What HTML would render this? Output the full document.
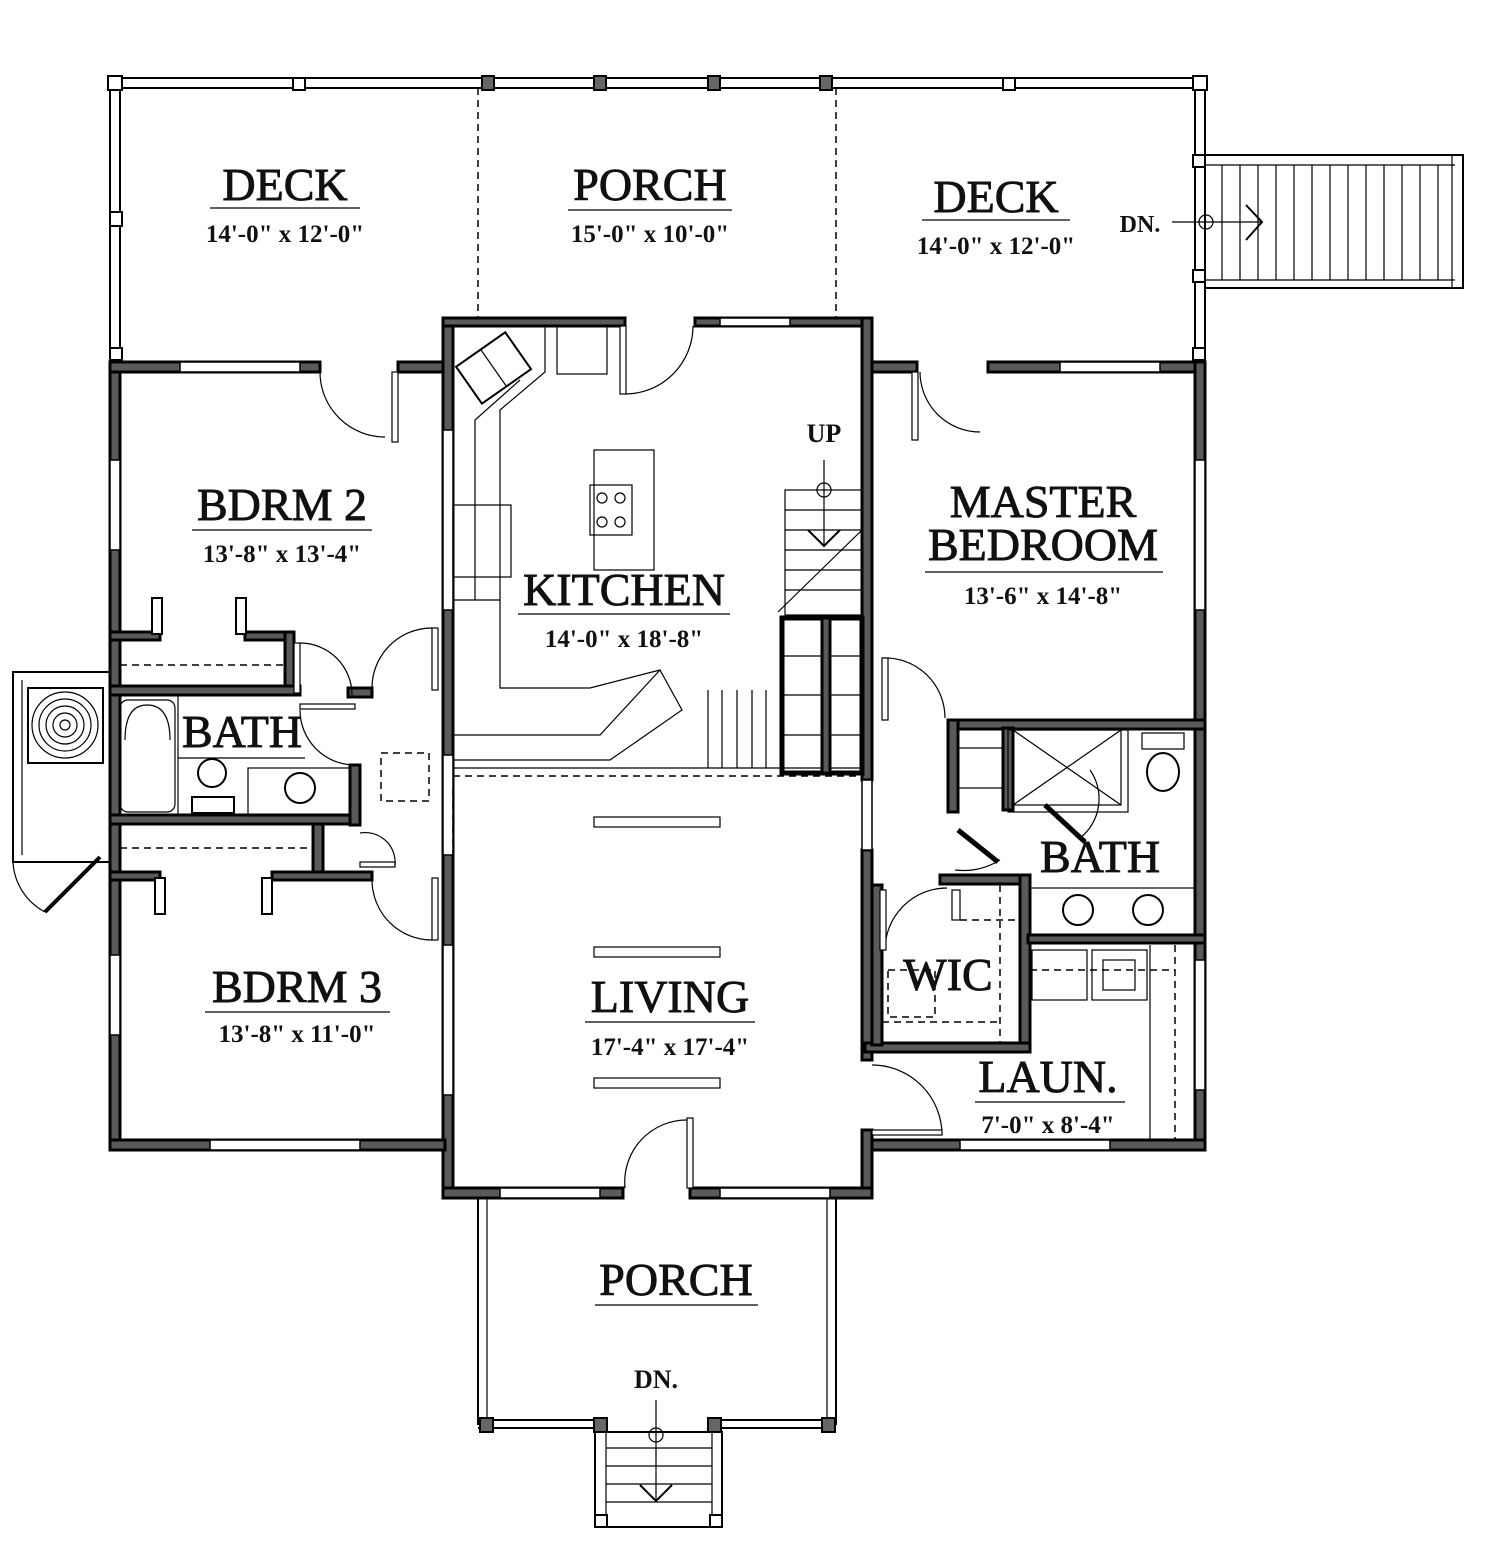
<!DOCTYPE html>
<html><head><meta charset="utf-8"><style>
html,body{margin:0;padding:0;background:#fff}
svg{display:block}
text{font-family:"Liberation Serif",serif;fill:#111;text-anchor:middle}
.t{font-size:46px;stroke:#111;stroke-width:0.9}
.d{font-size:25px;font-weight:bold}
.w{fill:#5a5a5a;stroke:#000;stroke-width:3}
.l{stroke:#000;stroke-width:2;fill:none}
.th{stroke:#000;stroke-width:1.2;fill:none}
.ds{stroke:#000;stroke-width:1.5;fill:none;stroke-dasharray:7 5}
.p{fill:#666;stroke:#000;stroke-width:2}
</style></head><body>
<svg width="1508" height="1560" viewBox="0 0 1508 1560" xmlns="http://www.w3.org/2000/svg">
<rect x="110" y="78" width="1095" height="10" class="l" fill="none"/>
<rect x="110" y="78" width="10" height="284" class="l"/>
<rect x="1195" y="78" width="10" height="284" class="l"/>
<g class="p">
<rect x="482" y="76" width="12" height="14"/><rect x="594" y="76" width="12" height="14"/><rect x="708" y="76" width="12" height="14"/><rect x="820" y="76" width="12" height="14"/>
</g>
<g fill="#fff" stroke="#000" stroke-width="2">
<rect x="108" y="76" width="14" height="14"/><rect x="293" y="78" width="12" height="12"/><rect x="1193" y="76" width="14" height="14"/><rect x="1003" y="78" width="12" height="12"/>
<rect x="110" y="212" width="12" height="14"/><rect x="1193" y="155" width="12" height="12"/><rect x="1193" y="270" width="12" height="12"/><rect x="1193" y="348" width="12" height="12"/><rect x="110" y="348" width="12" height="12"/>
</g>
<line x1="478" y1="88" x2="478" y2="318" class="ds"/>
<line x1="836" y1="88" x2="836" y2="318" class="ds"/>
<rect x="1205" y="155" width="258" height="133" class="l"/>
<line x1="1205" y1="165" x2="1455" y2="165" class="th"/><line x1="1205" y1="280" x2="1455" y2="280" class="th"/>
<line x1="1452" y1="155" x2="1452" y2="288" class="th"/>
<g class="th">
<line x1="1222" y1="165" x2="1222" y2="280"/><line x1="1240" y1="165" x2="1240" y2="280"/><line x1="1258" y1="165" x2="1258" y2="280"/><line x1="1276" y1="165" x2="1276" y2="280"/><line x1="1294" y1="165" x2="1294" y2="280"/><line x1="1312" y1="165" x2="1312" y2="280"/><line x1="1330" y1="165" x2="1330" y2="280"/><line x1="1348" y1="165" x2="1348" y2="280"/><line x1="1366" y1="165" x2="1366" y2="280"/><line x1="1384" y1="165" x2="1384" y2="280"/><line x1="1402" y1="165" x2="1402" y2="280"/><line x1="1420" y1="165" x2="1420" y2="280"/><line x1="1438" y1="165" x2="1438" y2="280"/>
</g>
<line x1="1172" y1="222" x2="1262" y2="222" class="th"/><circle cx="1206" cy="222" r="7" class="th"/>
<path d="M1246 205 L1262 222 L1246 240" class="l"/>
<g class="w">
<rect x="110" y="362" width="10" height="788"/>
<rect x="110" y="362" width="210" height="10"/>
<rect x="398" y="362" width="47" height="10"/>
<rect x="443" y="318" width="10" height="880"/>
<rect x="443" y="318" width="182" height="8"/>
<rect x="695" y="318" width="177" height="8"/>
<rect x="862" y="318" width="10" height="462"/>
<rect x="862" y="850" width="10" height="210"/>
<rect x="862" y="1130" width="10" height="68"/>
<rect x="872" y="362" width="45" height="10"/>
<rect x="988" y="362" width="217" height="10"/>
<rect x="1195" y="362" width="10" height="788"/>
<rect x="110" y="1140" width="335" height="10"/>
<rect x="443" y="1188" width="180" height="10"/>
<rect x="690" y="1188" width="182" height="10"/>
<rect x="872" y="1140" width="333" height="10"/>
<rect x="110" y="632" width="50" height="8"/><rect x="245" y="632" width="48" height="8"/>
<rect x="285" y="632" width="9" height="60"/>
<rect x="110" y="686" width="190" height="9"/>
<rect x="110" y="815" width="250" height="9"/>
<rect x="350" y="765" width="10" height="60"/>
<rect x="313" y="824" width="10" height="50"/>
<rect x="110" y="872" width="50" height="8"/><rect x="272" y="872" width="100" height="8"/>
<rect x="348" y="688" width="24" height="9"/>
<rect x="948" y="720" width="257" height="9"/>
<rect x="948" y="720" width="10" height="92"/>
<rect x="1003" y="728" width="10" height="82"/>
<rect x="940" y="875" width="90" height="9"/>
<rect x="1020" y="875" width="10" height="175"/>
<rect x="865" y="1043" width="165" height="9"/>
<rect x="1028" y="935" width="177" height="8"/>
<rect x="872" y="885" width="10" height="160"/>
</g>
<g fill="#fff" stroke="#000" stroke-width="1.5">
<rect x="110" y="460" width="10" height="90"/><rect x="110" y="955" width="10" height="80"/>
<rect x="443" y="430" width="10" height="180"/><rect x="443" y="945" width="10" height="150"/>
<rect x="1195" y="460" width="10" height="150"/><rect x="1195" y="960" width="10" height="130"/>
<rect x="210" y="1140" width="150" height="10"/><rect x="960" y="1140" width="150" height="10"/>
<rect x="180" y="362" width="120" height="10"/><rect x="1060" y="362" width="100" height="10"/>
<rect x="720" y="318" width="70" height="8"/><rect x="500" y="1188" width="100" height="10"/><rect x="720" y="1188" width="110" height="10"/>
<rect x="443" y="755" width="10" height="100"/>
<rect x="862" y="780" width="10" height="70"/>
</g>
<g fill="#fff" stroke="#000" stroke-width="2">
<rect x="152" y="598" width="10" height="36"/><rect x="236" y="598" width="10" height="36"/>
<rect x="155" y="878" width="10" height="36"/><rect x="262" y="878" width="10" height="36"/>
</g>
<line x1="120" y1="665" x2="285" y2="665" class="ds"/>
<line x1="120" y1="848" x2="313" y2="848" class="ds"/>
<g class="th">
<path d="M320 372 A65 65 0 0 0 385 437"/><rect x="392" y="372" width="6" height="70" fill="#fff"/>
<path d="M920 372 A60 60 0 0 0 980 432" /><rect x="912" y="372" width="6" height="68" fill="#fff"/>
<path d="M625 394 A68 68 0 0 0 693 326"/><rect x="620" y="326" width="6" height="68" fill="#fff"/>
<path d="M300 643 A52 52 0 0 1 352 695"/><rect x="294" y="643" width="6" height="50" fill="#fff"/>
<path d="M372 690 A60 60 0 0 1 432 628"/><rect x="432" y="628" width="6" height="62" fill="#fff"/>
<path d="M300 710 A55 55 0 0 0 355 765"/><rect x="300" y="704" width="55" height="5" fill="#fff"/>
<path d="M372 880 A60 60 0 0 0 432 940"/><rect x="432" y="878" width="6" height="62" fill="#fff"/>
<path d="M360 833 A30 30 0 0 1 395 866"/><rect x="360" y="862" width="35" height="5" fill="#fff"/>
<path d="M882 658 A60 60 0 0 1 945 718"/><rect x="882" y="658" width="6" height="62" fill="#fff"/>
<path d="M885 950 A62 62 0 0 1 947 888"/><rect x="880" y="890" width="6" height="60" fill="#fff"/>
<path d="M872 1065 A70 70 0 0 1 942 1135"/><rect x="872" y="1130" width="70" height="5" fill="#fff"/>
<path d="M625 1188 A62 62 0 0 1 687 1120"/><rect x="687" y="1118" width="6" height="70" fill="#fff"/>
<path d="M955 870 A70 70 0 0 0 1000 860"/>
<path d="M1090 770 A50 50 0 0 1 1080 838"/>
</g>
<line x1="958" y1="830" x2="998" y2="862" stroke="#000" stroke-width="5"/>
<line x1="1045" y1="805" x2="1085" y2="842" stroke="#000" stroke-width="5"/>
<rect x="120" y="700" width="55" height="112" rx="8" class="th"/>
<path d="M125 740 Q125 705 147 705 Q170 705 170 740" class="th"/>
<line x1="178" y1="695" x2="178" y2="815" class="th"/>
<line x1="178" y1="758" x2="305" y2="758" class="th"/>
<circle cx="212" cy="773" r="14" class="l"/><rect x="192" y="797" width="42" height="16" class="l"/>
<rect x="248" y="768" width="102" height="48" class="th"/><circle cx="300" cy="788" r="15" class="l"/>
<rect x="381" y="753" width="48" height="48" class="ds"/>
<rect x="13" y="672" width="97" height="190" class="l"/>
<line x1="22" y1="680" x2="22" y2="855" class="th"/>
<rect x="28" y="688" width="75" height="75" class="l"/>
<g class="th"><circle cx="65" cy="725" r="33"/><circle cx="65" cy="725" r="26"/><circle cx="65" cy="725" r="19"/><circle cx="65" cy="725" r="12"/><circle cx="65" cy="725" r="5"/></g>
<path d="M45 912 A60 60 0 0 1 13 862" class="th"/><line x1="45" y1="912" x2="100" y2="857" stroke="#000" stroke-width="4"/>
<path d="M453 600 L500 600 L500 410 L545 372 L545 326" class="th"/>
<path d="M475 600 L475 420 L520 380" class="th"/>
<g transform="translate(495 370) rotate(-35)"><rect x="-30" y="-25" width="60" height="45" class="l" fill="#fff"/><line x1="0" y1="-25" x2="0" y2="20" class="th"/></g>
<rect x="557" y="326" width="50" height="48" class="th"/>
<rect x="453" y="505" width="58" height="72" class="th"/>
<rect x="594" y="450" width="60" height="120" class="th"/><rect x="590" y="485" width="42" height="50" class="th"/>
<g class="th"><circle cx="602" cy="498" r="5"/><circle cx="620" cy="498" r="5"/><circle cx="602" cy="522" r="5"/><circle cx="620" cy="522" r="5"/></g>
<path d="M453 735 L600 735 L660 670 L682 710 L610 760 L453 760" class="th"/>
<path d="M500 600 L500 688 L590 688 L660 670" class="th"/>
<line x1="453" y1="768" x2="862" y2="768" class="th"/><line x1="453" y1="776" x2="862" y2="776" class="ds"/>
<g class="th"><line x1="708" y1="690" x2="708" y2="768"/><line x1="722" y1="690" x2="722" y2="768"/><line x1="737" y1="690" x2="737" y2="768"/><line x1="752" y1="690" x2="752" y2="768"/><line x1="766" y1="690" x2="766" y2="768"/></g>
<rect x="785" y="490" width="77" height="125" class="th"/>
<g class="th"><line x1="785" y1="510" x2="862" y2="510"/><line x1="785" y1="530" x2="862" y2="530"/><line x1="785" y1="550" x2="862" y2="550"/><line x1="785" y1="570" x2="862" y2="570"/><line x1="785" y1="590" x2="862" y2="590"/></g>
<line x1="778" y1="612" x2="862" y2="530" class="th"/>
<line x1="824" y1="460" x2="824" y2="545" class="th"/><circle cx="824" cy="490" r="7" class="th"/>
<path d="M808 530 L824 546 L840 530" class="l"/>
<rect x="782" y="618" width="80" height="155" fill="none" stroke="#000" stroke-width="5"/>
<rect x="822" y="618" width="8" height="155" class="w"/>
<g class="th"><line x1="782" y1="656" x2="822" y2="656"/><line x1="782" y1="695" x2="822" y2="695"/><line x1="782" y1="735" x2="822" y2="735"/><line x1="830" y1="656" x2="862" y2="656"/><line x1="830" y1="695" x2="862" y2="695"/><line x1="830" y1="735" x2="862" y2="735"/></g>
<rect x="594" y="817" width="126" height="10" class="th"/>
<rect x="594" y="947" width="126" height="10" class="th"/>
<rect x="594" y="1078" width="126" height="10" class="th"/>
<line x1="453" y1="790" x2="453" y2="860" class="ds"/>
<rect x="1013" y="730" width="108" height="75" class="th"/><line x1="1013" y1="730" x2="1121" y2="805" class="th"/><line x1="1121" y1="730" x2="1013" y2="805" class="th"/>
<rect x="1008" y="730" width="120" height="82" class="th"/>
<rect x="958" y="748" width="45" height="40" class="th"/>
<rect x="1142" y="733" width="42" height="16" class="th"/><ellipse cx="1163" cy="772" rx="16" ry="19" class="l"/>
<rect x="1030" y="888" width="165" height="47" class="th"/>
<circle cx="1078" cy="910" r="15" class="l"/><circle cx="1148" cy="910" r="15" class="l"/>
<rect x="952" y="890" width="8" height="30" class="th"/>
<line x1="960" y1="920" x2="1020" y2="920" class="ds"/><line x1="1000" y1="885" x2="1000" y2="1043" class="ds"/>
<line x1="882" y1="1022" x2="1000" y2="1022" class="ds"/>
<rect x="888" y="970" width="47" height="47" class="ds"/>
<rect x="1032" y="950" width="55" height="50" class="th"/><rect x="1092" y="950" width="55" height="50" class="th"/><rect x="1103" y="960" width="32" height="30" class="th"/>
<line x1="1150" y1="945" x2="1150" y2="1140" class="th"/><line x1="1175" y1="945" x2="1175" y2="1140" class="ds"/>
<line x1="1030" y1="970" x2="1175" y2="970" class="ds"/>
<line x1="478" y1="1198" x2="478" y2="1425" class="l"/><line x1="487" y1="1198" x2="487" y2="1420" class="th"/>
<line x1="836" y1="1198" x2="836" y2="1425" class="l"/><line x1="827" y1="1198" x2="827" y2="1420" class="th"/>
<line x1="478" y1="1420" x2="600" y2="1420" class="l"/><line x1="478" y1="1428" x2="600" y2="1428" class="l"/>
<line x1="716" y1="1420" x2="836" y2="1420" class="l"/><line x1="716" y1="1428" x2="836" y2="1428" class="l"/>
<g class="p"><rect x="480" y="1418" width="13" height="14"/><rect x="594" y="1418" width="13" height="14"/><rect x="708" y="1418" width="13" height="14"/><rect x="822" y="1418" width="13" height="14"/></g>
<rect x="595" y="1432" width="127" height="95" class="l"/>
<line x1="606" y1="1432" x2="606" y2="1520" class="th"/><line x1="712" y1="1432" x2="712" y2="1520" class="th"/>
<g class="th"><line x1="606" y1="1448" x2="712" y2="1448"/><line x1="606" y1="1466" x2="712" y2="1466"/><line x1="606" y1="1484" x2="712" y2="1484"/><line x1="606" y1="1502" x2="712" y2="1502"/></g>
<g fill="#fff" stroke="#000" stroke-width="2"><rect x="595" y="1515" width="12" height="12"/><rect x="710" y="1515" width="12" height="12"/></g>
<line x1="656" y1="1400" x2="656" y2="1500" class="th"/><circle cx="656" cy="1435" r="7" class="th"/>
<path d="M640 1485 L656 1501 L672 1485" class="l"/>
<text x="285" y="200" class="t">DECK</text><line x1="210" y1="208" x2="360" y2="208" class="th"/>
<text x="285" y="242" class="d">14'-0" x 12'-0"</text>
<text x="650" y="200" class="t">PORCH</text><line x1="568" y1="210" x2="732" y2="210" class="th"/>
<text x="650" y="242" class="d">15'-0" x 10'-0"</text>
<text x="996" y="212" class="t">DECK</text><line x1="922" y1="220" x2="1070" y2="220" class="th"/>
<text x="996" y="254" class="d">14'-0" x 12'-0"</text>
<text x="1140" y="232" font-size="24" font-weight="bold">DN.</text>
<text x="282" y="520" class="t">BDRM 2</text><line x1="192" y1="530" x2="372" y2="530" class="th"/>
<text x="282" y="562" class="d">13'-8" x 13'-4"</text>
<text x="624" y="605" class="t">KITCHEN</text><line x1="518" y1="614" x2="730" y2="614" class="th"/>
<text x="624" y="647" class="d">14'-0" x 18'-8"</text>
<text x="824" y="442" font-size="26" font-weight="bold">UP</text>
<text x="1043" y="517" class="t">MASTER</text>
<text x="1043" y="560" class="t">BEDROOM</text><line x1="925" y1="572" x2="1163" y2="572" class="th"/>
<text x="1043" y="604" class="d">13'-6" x 14'-8"</text>
<text x="242" y="747" class="t">BATH</text>
<text x="1100" y="872" class="t">BATH</text>
<text x="948" y="990" class="t">WIC</text>
<text x="670" y="1012" class="t">LIVING</text><line x1="585" y1="1022" x2="755" y2="1022" class="th"/>
<text x="670" y="1055" class="d">17'-4" x 17'-4"</text>
<text x="297" y="1002" class="t">BDRM 3</text><line x1="205" y1="1012" x2="390" y2="1012" class="th"/>
<text x="297" y="1042" class="d">13'-8" x 11'-0"</text>
<text x="1048" y="1092" class="t">LAUN.</text><line x1="975" y1="1102" x2="1125" y2="1102" class="th"/>
<text x="1048" y="1133" class="d">7'-0" x 8'-4"</text>
<text x="676" y="1295" class="t">PORCH</text><line x1="595" y1="1305" x2="758" y2="1305" class="th"/>
<text x="656" y="1388" font-size="26" font-weight="bold">DN.</text>
</svg>
</body></html>
